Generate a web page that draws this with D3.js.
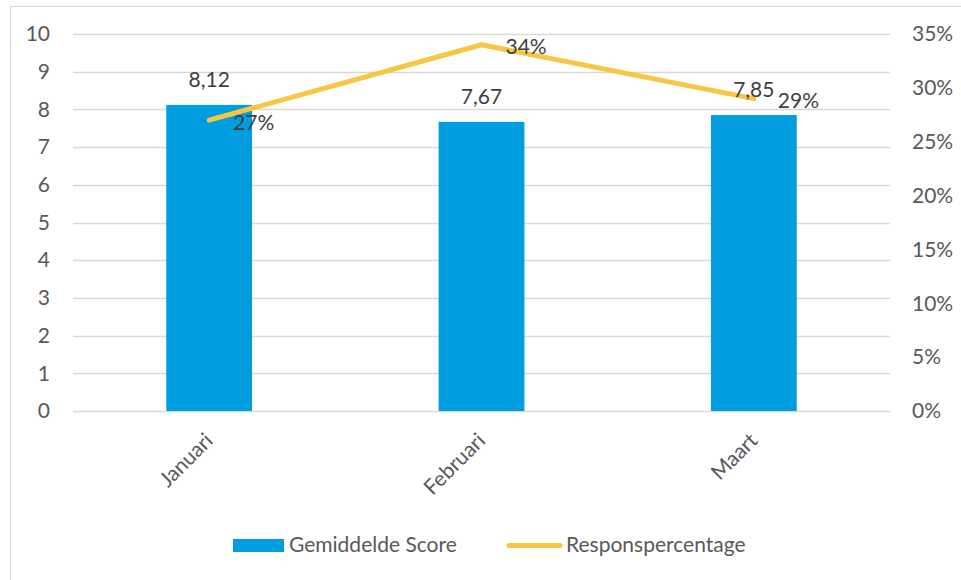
<!DOCTYPE html>
<html>
<head>
<meta charset="utf-8">
<script src="https://cdn.jsdelivr.net/npm/d3@7"></script>
<style>
  body { margin: 0; background: #fff; }
  svg { font-family: Lato, "Open Sans", sans-serif; }
</style>
</head>
<body>
<svg id="chart" width="961" height="580"></svg>
<script>
var months = ["Januari", "Februari", "Maart"];
var scores = [8.12, 7.67, 7.85];
var response = [0.27, 0.34, 0.29];
var scoreTicks = [0, 1, 2, 3, 4, 5, 6, 7, 8, 9, 10];
var pctTicks = [0, 0.05, 0.10, 0.15, 0.20, 0.25, 0.30, 0.35];

var blue = "#009edf",
    yellow = "#f6c644",
    textColor = "#595959",
    labelColor = "#404040",
    fontSize = "21px";

var svg = d3.select("svg#chart");

// chart border
svg.append("rect")
    .attr("x", 10.5).attr("y", 6.5)
    .attr("width", 980).attr("height", 600)
    .attr("fill", "none")
    .attr("stroke", "#d9d9d9");

var plotLeft = 73, plotRight = 890, plotTop = 34, plotBottom = 411;

var x = d3.scaleBand().domain(months).range([plotLeft, plotRight]).paddingInner(0.685).paddingOuter(0.3425);
var y = d3.scaleLinear().domain([0, 10]).range([plotBottom, plotTop]);
var y2 = d3.scaleLinear().domain([0, 0.35]).range([plotBottom, plotTop]);

// gridlines
svg.append("g")
    .selectAll("line")
    .data(scoreTicks)
    .enter().append("line")
    .attr("x1", plotLeft).attr("x2", plotRight)
    .attr("y1", function(d) { return Math.round(y(d)) + 0.5; })
    .attr("y2", function(d) { return Math.round(y(d)) + 0.5; })
    .attr("stroke", "#d9d9d9")
    .attr("stroke-width", 1.3);

// left axis
var yAxis = svg.append("g")
    .attr("transform", "translate(" + (plotLeft - 20) + ",0)")
    .call(d3.axisLeft(y).tickValues(scoreTicks).tickSize(0).tickPadding(3));
yAxis.select(".domain").remove();
yAxis.selectAll("text")
    .attr("fill", textColor)
    .style("font-size", fontSize)
    .style("font-family", "Lato, sans-serif");

// right axis
var fmtPct = function(d) { return Math.round(d * 100) + "%"; };
var y2Axis = svg.append("g")
    .attr("transform", "translate(" + (plotRight + 19) + ",0)")
    .call(d3.axisRight(y2).tickValues(pctTicks).tickFormat(fmtPct).tickSize(0).tickPadding(3));
y2Axis.select(".domain").remove();
y2Axis.selectAll("text")
    .attr("fill", textColor)
    .style("font-size", fontSize)
    .style("font-family", "Lato, sans-serif");

// bars
svg.append("g")
    .selectAll("rect")
    .data(months)
    .enter().append("rect")
    .attr("x", function(d) { return x(d); })
    .attr("width", x.bandwidth())
    .attr("y", function(d, i) { return y(scores[i]); })
    .attr("height", function(d, i) { return plotBottom - y(scores[i]); })
    .attr("fill", blue);

// x labels, rotated
svg.append("g")
    .selectAll("text")
    .data(months)
    .enter().append("text")
    .attr("transform", function(d) {
        return "translate(" + (x(d) + x.bandwidth() / 2 + 5) + "," + (plotBottom + 31) + ") rotate(-45)";
    })
    .attr("text-anchor", "end")
    .attr("fill", textColor)
    .style("font-size", fontSize)
    .text(function(d) { return d; });

// line
var line = d3.line()
    .x(function(d, i) { return x(months[i]) + x.bandwidth() / 2; })
    .y(function(d) { return y2(d); });

svg.append("path")
    .datum(response)
    .attr("d", line)
    .attr("fill", "none")
    .attr("stroke", yellow)
    .attr("stroke-width", 5)
    .attr("stroke-linecap", "round")
    .attr("stroke-linejoin", "round");

// bar value labels
svg.append("g")
    .selectAll("text")
    .data(scores)
    .enter().append("text")
    .attr("x", function(d, i) { return x(months[i]) + x.bandwidth() / 2; })
    .attr("y", function(d) { return y(d) - 18; })
    .attr("text-anchor", "middle")
    .attr("fill", labelColor)
    .style("font-size", fontSize)
    .text(function(d) { return d.toFixed(2).replace(".", ","); });

// line value labels
svg.append("g")
    .selectAll("text")
    .data(response)
    .enter().append("text")
    .attr("x", function(d, i) { return x(months[i]) + x.bandwidth() / 2 + 24; })
    .attr("y", function(d) { return y2(d) + 2; })
    .attr("dy", "0.35em")
    .attr("fill", labelColor)
    .style("font-size", fontSize)
    .text(fmtPct);

// legend
var legend = svg.append("g");
legend.append("rect")
    .attr("x", 233).attr("y", 539)
    .attr("width", 51).attr("height", 13)
    .attr("fill", blue);
legend.append("text")
    .attr("x", 289).attr("y", 545)
    .attr("dy", "0.35em")
    .attr("fill", textColor)
    .style("font-size", fontSize)
    .text("Gemiddelde Score");
legend.append("line")
    .attr("x1", 509).attr("x2", 560)
    .attr("y1", 545.5).attr("y2", 545.5)
    .attr("stroke", yellow)
    .attr("stroke-width", 5)
    .attr("stroke-linecap", "round");
legend.append("text")
    .attr("x", 566).attr("y", 545)
    .attr("dy", "0.35em")
    .attr("fill", textColor)
    .style("font-size", fontSize)
    .text("Responspercentage");
</script>
</body>
</html>
